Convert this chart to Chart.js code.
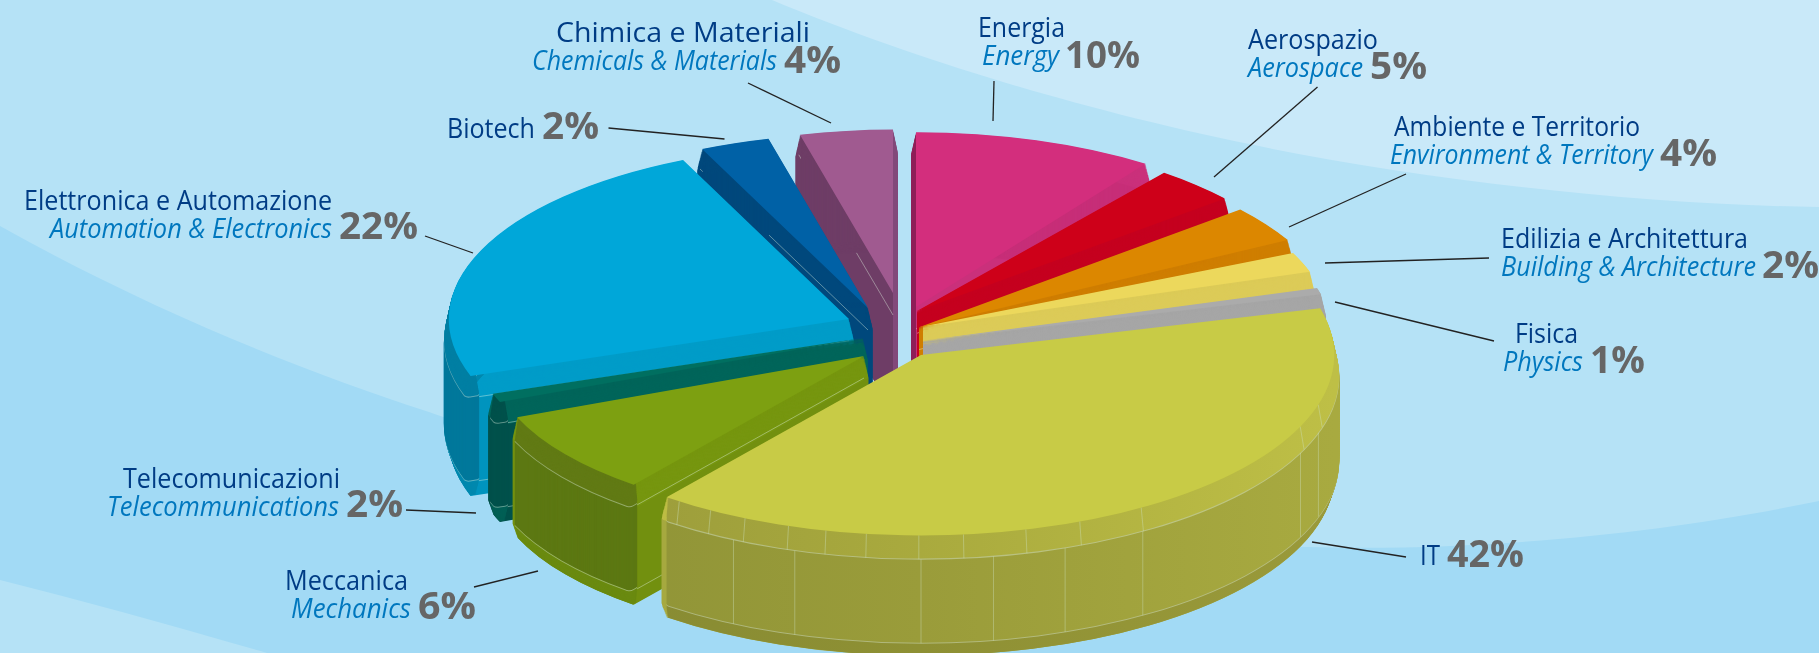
<!DOCTYPE html>
<html><head><meta charset="utf-8">
<script src="https://cdn.jsdelivr.net/npm/chart.js@4"></script>
<style>
html,body{margin:0;padding:0;background:#B5E2F6}
#wrap{position:relative;width:1819px;height:653px;overflow:hidden}
#wrap svg,#wrap canvas{position:absolute;left:0;top:0}
text{font-family:"Open Sans","Noto Sans",sans-serif}
</style></head><body>
<div id="wrap">
<svg width="1819" height="653" viewBox="0 0 1819 653">
<rect width="1819" height="653" fill="#B5E2F6"/>
<path d="M772,0 C880,45 1100,125 1393,170 C1540,192 1680,205 1819,207 L1819,0 Z" fill="#C9E9F9"/>
<path d="M0,226 C150,310 300,370 429,412 C620,480 1050,540 1307,547 C1500,552 1680,530 1819,501 L1819,653 L267,653 C170,625 80,600 0,580 Z" fill="#A2DAF5"/>
</svg>
<canvas id="c" width="1819" height="653" style="width:1819px;height:653px"></canvas>
<svg id="labels" width="1819" height="653" viewBox="0 0 1819 653"></svg>
</div>
<script>
// ---- data (clockwise from 12 o'clock) ----
const categories=["Energia","Aerospazio","Ambiente e Territorio","Edilizia e Architettura","Fisica","IT","Meccanica","Telecomunicazioni","Elettronica e Automazione","Biotech","Chimica e Materiali"];
const translations=["Energy","Aerospace","Environment & Territory","Building & Architecture","Physics","","Mechanics","Telecommunications","Automation & Electronics","","Chemicals & Materials"];
const values=[10,5,4,2,1,42,6,2,22,2,4];

// ---- look ----
const topColors=["#D32E7D","#CE0019","#DC8700","#ECD85C","#ABABAB","#C8CB46","#7DA011","#006F60","#00A7D9","#0061A6","#A05A90"];
const cutBevel =["#CA307B","#C5001F","#CF7E00","#DCCB58","#A6A6A6","#BDBD44","#76960F","#00655A","#009CC8","#00487C","#6E3D66"];
const cutWall  =["#C72E78","#C5001F","#CF7E00","#DCCB58","#A0A0A0","#A6A93F","#72900F","#00655A","#0094BE","#00487C","#6E3D66"];
const cutLeft  =["#8E1E58","#C5001F","#CF7E00","#DCCB58","#A0A0A0","#A6A93F","#72900F","#00514B","#0094BE","#00487C","#6E3D66"];
const cutRight =[null,null,null,null,null,null,null,null,null,null,"#82497A"];
const outerBev =["#CA307B","#C5001F","#CF7E00","#DCCB58","#A6A6A6",null,"#617A14","#00514B","#007FA3","#00487C","#6E3D66"];
const outerWall=["#C72E78","#C5001F","#CF7E00","#DCCB58","#A0A0A0",null,"#5C7812","#00514B","#00789B","#00487C","#6E3D66"];
const outerFoot=["#C72E78","#C5001F","#CF7E00","#DCCB58","#A0A0A0",null,"#6A8A10","#005F55","#0088AE","#00487C","#6E3D66"];
// projected pie layout
const RX=435,RY=190,DEPTH=120,BEVEL=22,FOOT=106,EDGE=4;
const centers=[[916,307,.92],[915,312,.93],[917,328,.97],[921,327,.94],[921,341,.952],[921,355,.95],[864,356,.86],[863,338,.9],[849,319,.92],[868,308,.92],[893,293,.86]];
const paintOrder=[10,9,8,7,6,0,1,2,3,4,5];
// which radial edge of each slice faces the viewer (0 none, 1 start, 2 end)
const frontEdge=[2,2,2,2,0,0,1,1,1,1,1];
const footSeam=[false,false,false,false,false,false,true,true,true,false,false];
// perspective foreshortening of the angle (true degrees -> drawn degrees)
const warpFrom=[0,36,54,68.4,75.6,79.2,230.4,252,259.2,338.4,345.6,360];
const warpTo  =[0,38,50,61.5,72,75,218,248,251,335.5,345.6,360];
const trimStart=[0,0,0,4,1,0,0,0,0,0,0];
const trimEnd  =[-3,0,0,0,0,0,0,0,0,0,0];
const clipFrom =[null,917,919,923,923,null,null,null,null,null,null];
const wallFacets=[206.7,197.6,180,170,159.8,147.9,114.6,107.8];
const bevelFacets=[215.8,210.6,205.2,198.7,193.3,187.6,180.3,174.1,165.3,157.4,147.8,113.4,106];

function warp(rad){
  const deg=(rad+Math.PI/2)*180/Math.PI;
  for(let i=1;i<warpFrom.length;i++){
    if(deg<=warpFrom[i]+1e-6){
      const t=(deg-warpFrom[i-1])/(warpFrom[i]-warpFrom[i-1]);
      return (warpTo[i-1]+t*(warpTo[i]-warpTo[i-1]))*Math.PI/180-Math.PI/2;
    }
  }
  return rad;
}
const HL="rgba(225,240,225,.42)";
const pie3d={id:'pie3d',beforeDatasetsDraw(chart){
  const ctx=chart.ctx, arcs=chart.getDatasetMeta(0).data;
  const R=arcs[0].outerRadius, D2R=Math.PI/180;
  for(const i of paintOrder){
    const el=arcs[i],[cx,cy,k]=centers[i];
    const sx=RX*k/R, sy=RY*k/R;
    const start=warp(el.startAngle)+trimStart[i]*D2R, end=warp(el.endAngle)+trimEnd[i]*D2R;
    const ghost=(fill,stroke,lw,inner,inset)=>{
      const g=Object.create(el);
      g.startAngle=start+inset;g.endAngle=end-inset;g.circumference=end-start-2*inset;
      g.innerRadius=inner;
      g.options=Object.assign({},el.options,{backgroundColor:fill,borderColor:stroke,borderWidth:lw,borderAlign:'center',borderJoinStyle:'round',borderDash:[],offset:0,spacing:0});
      return g;
    };
    const place=d=>{ctx.save();ctx.translate(cx,cy+d);ctx.scale(sx,sy);ctx.translate(-el.x,-el.y);};
    const hg=(a,b,c)=>{
      const g=ctx.createLinearGradient(el.x-R,0,el.x+R,0);
      g.addColorStop(0,a);g.addColorStop(.5,b);g.addColorStop(1,c);return g;
    };
    const split=(a,b)=>{
      const g=ctx.createLinearGradient(el.x-1,0,el.x+1,0);
      g.addColorStop(.5,a);g.addColorStop(.5,b);return g;
    };
    let oB=outerBev[i],oW=outerWall[i],oF=outerFoot[i];
    if(i===5){oB=hg("#97983A","#A9AA3E","#BEBF46");oW=hg("#8D9236","#9A9C3A","#A8AA40");oF=hg("#868A32","#8E9034","#9A9A3A");}
    const left=cutLeft[i], right=cutRight[i]||cutWall[i];
    const cutW=split(left,right);
    const cutB=i===0||i===10?split(left,cutRight[i]||cutBevel[i]):cutBevel[i];
    const edgeAt=d=>d<=BEVEL?EDGE*d/BEVEL:(d<=FOOT?EDGE:EDGE*(DEPTH-d)/(DEPTH-FOOT));
    ctx.save();
    if(clipFrom[i]!==null){ctx.beginPath();ctx.rect(clipFrom[i],0,1819,653);ctx.clip();}
    // cut faces, deepest layer first
    for(let d=DEPTH;d>=1;d--){
      const f=d<BEVEL?cutB:cutW;
      place(d);ghost(f,f,edgeAt(d)*2,0,0).draw(ctx);ctx.restore();
    }
    // thin seam lines on the cut face that looks at the viewer
    if(frontEdge[i]){
      const a=frontEdge[i]===1?start:end, rr=1+EDGE/R;
      const ex=cx+RX*k*rr*Math.cos(a), ey=cy+RY*k*rr*Math.sin(a);
      ctx.lineWidth=1;ctx.strokeStyle=HL;
      for(const d of (footSeam[i]?[BEVEL,FOOT]:[BEVEL])){ctx.beginPath();ctx.moveTo(cx,cy+d);ctx.lineTo(ex,ey+d);ctx.stroke();}
    }
    // outer rim, deepest layer first
    for(let d=DEPTH;d>=1;d--){
      const hl=(d===BEVEL||d===FOOT)&&i>=5&&i<=8;
      const f=hl?HL:(d<BEVEL?oB:(d<FOOT?oW:oF));
      const e=edgeAt(d);
      place(d);ghost(f,f,e*2,R*.985,(e+1)/R).draw(ctx);ctx.restore();
    }
    place(0);ghost(topColors[i],topColors[i],0,0,0).draw(ctx);ctx.restore();
    ctx.restore();
    if(i===5){
      const rx=RX*k,ry=RY*k;
      const pt=(a,rr,d)=>[cx+rx*rr*Math.sin(a*D2R),cy-ry*rr*Math.cos(a*D2R)+d];
      ctx.save();ctx.lineWidth=1;ctx.strokeStyle="rgba(205,225,190,.4)";
      for(const a of wallFacets){const p=pt(a,1.01,BEVEL),q=pt(a,1.01,FOOT);ctx.beginPath();ctx.moveTo(p[0],p[1]);ctx.lineTo(q[0],q[1]);ctx.stroke();}
      for(const a of bevelFacets){const p=pt(a,1,0),q=pt(a,1.01,BEVEL);ctx.beginPath();ctx.moveTo(p[0],p[1]);ctx.lineTo(q[0],q[1]);ctx.stroke();}
      ctx.restore();
    }
  }
  return false;
}};
new Chart(document.getElementById('c'),{
  type:'pie',
  data:{labels:categories,datasets:[{data:values,backgroundColor:topColors,borderWidth:0}]},
  options:{responsive:false,animation:false,devicePixelRatio:1,events:[],
    plugins:{legend:{display:false},tooltip:{enabled:false}}},
  plugins:[pie3d]
});

// ---- labels: [x, width, baseline] for name, translation, percentage ----
const labelBoxes=[
 [[978,87,37],[982,77,65],[1065,75,68]],
 [[1248,130,49],[1248,115,77],[1370,57,79]],
 [[1394,246,136],[1390,263,164],[1660,57,166]],
 [[1501,247,248],[1501,255,276],[1762,57,278]],
 [[1515,63,343],[1503,80,371],[1590,55,373]],
 [[1420,20,565],null,[1447,77,567]],
 [[285,123,590],[291,120,618],[418,58,619]],
 [[123,217,488],[107,232,516],[346,57,517]],
 [[24,308,210],[50,282,238],[339,79,239]],
 [[447,88,138],null,[542,57,139]],
 [[556,254,42],[532,245,70],[784,57,73]]
];
const leaderLines=[[994,81,993,121],[1317.5,87,1214,177],[1406,174,1289,227],[1489,258,1325,263],[1494,341,1335,302],[1406,557,1312,542],[538,571,474,587],[406,510,476,513],[425,236,473,253],[608.5,128,724.5,139],[748,83,831,123]];
const svg=document.getElementById('labels'),NS="http://www.w3.org/2000/svg";
function addText(str,box,size,fill,weight,style){
  const t=document.createElementNS(NS,'text');
  t.setAttribute('x',box[0]);t.setAttribute('y',box[2]);
  t.setAttribute('textLength',box[1]);t.setAttribute('lengthAdjust','spacingAndGlyphs');
  t.setAttribute('font-size',size);t.setAttribute('fill',fill);
  t.setAttribute('font-weight',weight);t.setAttribute('font-style',style);
  t.textContent=str;svg.appendChild(t);
}
categories.forEach((name,i)=>{
  const b=labelBoxes[i];
  addText(name,b[0],27,"#003C85","400","normal");
  if(b[1])addText(translations[i],b[1],27,"#0077BE","400","italic");
  addText(values[i]+"%",b[2],38,"#666666","700","normal");
});
leaderLines.forEach(l=>{
  const e=document.createElementNS(NS,'line');
  e.setAttribute('x1',l[0]);e.setAttribute('y1',l[1]);e.setAttribute('x2',l[2]);e.setAttribute('y2',l[3]);
  e.setAttribute('stroke',"#222");e.setAttribute('stroke-width',1.3);svg.appendChild(e);
});
</script>
</body></html>
